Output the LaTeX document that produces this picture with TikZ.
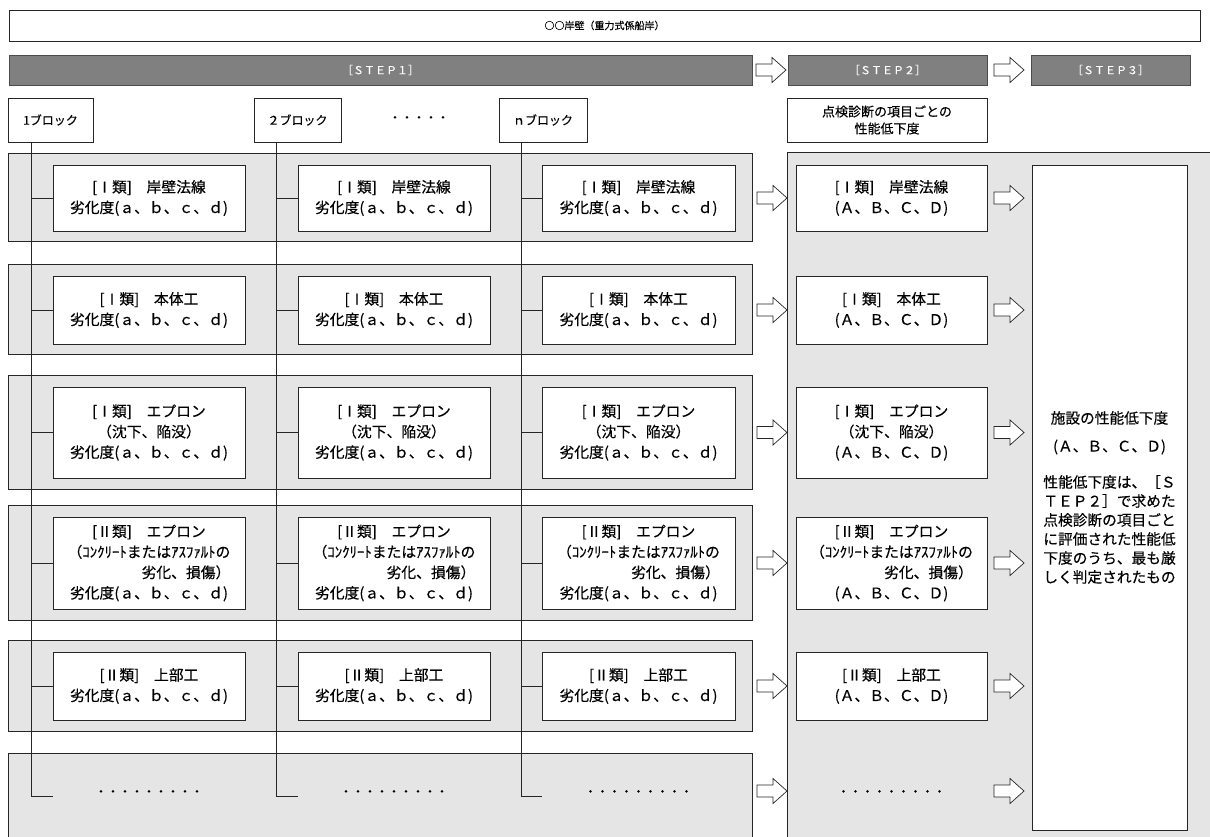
\documentclass[tikz,border=0pt]{standalone}
\usepackage{fontspec}
\setmainfont{Noto Sans CJK JP}[FakeBold=0.3]
\usetikzlibrary{calc}
\newcommand\bx[7]{\node[#6,minimum width={#4-#2},minimum height={#5-#3}] (#1) at ({(#2+#4)/2},{(#3+#5)/2}) {#7};}
\tikzset{
  frame/.style={draw=black!85,line width=0.8pt,inner sep=0pt,outer sep=0pt,align=center},
  whitebox/.style={frame,fill=white},
  graybox/.style={frame,fill=black!10},
  stepbar/.style={draw=black!70,line width=0.8pt,fill=black!50,text=white,inner sep=0pt,outer sep=0pt,font=\fontsize{11}{13}\selectfont},
  rowtext/.style={font=\fontsize{14.8}{20.5}\selectfont},
  smalltext/.style={font=\fontsize{12}{17}\selectfont},
  link/.style={draw=black!85,line width=0.8pt},
  barrow/.pic={\draw[draw=black!85,line width=0.7pt,fill=white,line join=miter] (0,-6)--(16,-6)--(16,-12.5)--(30,0)--(16,12.5)--(16,6)--(0,6)--cycle;}
}
\begin{document}
\begin{tikzpicture}[x=1pt,y=-1pt]
\useasboundingbox (0,0) rectangle (1210,837);
\fill[white] (0,0) rectangle (1210,837);
\clip (0,0) rectangle (1210,837);

% title
\bx{title}{9}{10}{1200}{41}{whitebox,font=\fontsize{10}{12}\selectfont}{○○岸壁（重力式係船岸）}

% step bars
\bx{st1}{9}{55}{752}{85}{stepbar}{［ＳＴＥＰ１］}
\bx{st2}{788}{55}{987}{85}{stepbar}{［ＳＴＥＰ２］}
\bx{st3}{1031}{55}{1190}{85}{stepbar}{［ＳＴＥＰ３］}
\pic at (756,70) {barrow};
\pic at (994,70) {barrow};

% block headers
\bx{b1}{8}{98}{93}{142}{whitebox,smalltext}{1ブロック}
\bx{b2}{254}{98}{341}{142}{whitebox,smalltext}{２ブロック}
\bx{b3}{499}{98}{587}{142}{whitebox,smalltext}{ｎブロック}
\node[smalltext,inner sep=0pt] (bdots) at (419,119) {・・・・・};
\bx{h2}{787}{98}{987}{142}{whitebox,font=\fontsize{13}{17}\selectfont}{点検診断の項目ごとの\\性能低下度}

% gray row bands
\bx{g1}{8}{153}{752}{241}{graybox}{}
\bx{g2}{8}{264}{752}{354}{graybox}{}
\bx{g3}{8}{375}{752}{489}{graybox}{}
\bx{g4}{8}{505}{752}{620}{graybox}{}
\bx{g5}{8}{640}{752}{731}{graybox}{}
\bx{g6}{8}{753}{752}{860}{graybox}{}
\bx{p2}{787}{152}{1215}{860}{graybox}{}

% block lines
\coordinate (L1) at (31,796);
\coordinate (L2) at (276,796);
\coordinate (L3) at (521,796);
\coordinate (E1) at (53,796);
\coordinate (E2) at (298,796);
\coordinate (E3) at (542,796);
\draw[link] (b1.south -| L1) -- (L1) -- (E1);
\draw[link] (b2.south -| L2) -- (L2) -- (E2);
\draw[link] (b3.south -| L3) -- (L3) -- (E3);

% step 1 boxes
\foreach \c/\xa/\xb in {1/53/245,2/298/490,3/542/735}{
  \bx{i\c1}{\xa}{165}{\xb}{231}{whitebox,rowtext}{[Ⅰ類]　岸壁法線\\劣化度(ａ、ｂ、ｃ、ｄ)}
  \bx{i\c2}{\xa}{276}{\xb}{344}{whitebox,rowtext}{[Ⅰ類]　本体工\\劣化度(ａ、ｂ、ｃ、ｄ)}
  \bx{i\c3}{\xa}{387}{\xb}{478}{whitebox,rowtext}{[Ⅰ類]　エプロン\\（沈下、陥没）\\劣化度(ａ、ｂ、ｃ、ｄ)}
  \bx{i\c4}{\xa}{517}{\xb}{609}{whitebox,rowtext}{[Ⅱ類]　エプロン\\（ｺﾝｸﾘｰﾄまたはｱｽﾌｧﾙﾄの\\　　　　　劣化、損傷）\\劣化度(ａ、ｂ、ｃ、ｄ)}
  \bx{i\c5}{\xa}{652}{\xb}{720}{whitebox,rowtext}{[Ⅱ類]　上部工\\劣化度(ａ、ｂ、ｃ、ｄ)}
  \node[font=\fontsize{12}{14}\selectfont,inner sep=0pt] (d\c) at ({(\xa+\xb)/2},793) {・・・・・・・・・};
}
\foreach \c/\L in {1/L1,2/L2,3/L3}{
  \foreach \r in {1,...,5}{
    \draw[link] (i\c\r.west -| \L) -- (i\c\r.west);
  }
}

% step 2 boxes
\bx{s1}{796}{165}{987}{231}{whitebox,rowtext}{[Ⅰ類]　岸壁法線\\(Ａ、Ｂ、Ｃ、Ｄ)}
\bx{s2}{796}{276}{987}{344}{whitebox,rowtext}{[Ⅰ類]　本体工\\(Ａ、Ｂ、Ｃ、Ｄ)}
\bx{s3}{796}{387}{987}{478}{whitebox,rowtext}{[Ⅰ類]　エプロン\\（沈下、陥没）\\(Ａ、Ｂ、Ｃ、Ｄ)}
\bx{s4}{796}{517}{987}{609}{whitebox,rowtext}{[Ⅱ類]　エプロン\\（ｺﾝｸﾘｰﾄまたはｱｽﾌｧﾙﾄの\\　　　　　劣化、損傷）\\(Ａ、Ｂ、Ｃ、Ｄ)}
\bx{s5}{796}{652}{987}{720}{whitebox,rowtext}{[Ⅱ類]　上部工\\(Ａ、Ｂ、Ｃ、Ｄ)}
\node[font=\fontsize{12}{14}\selectfont,inner sep=0pt] (s6) at (891.5,793) {・・・・・・・・・};

% step 3 box
\bx{f}{1032}{165}{1187}{830}{whitebox,font=\fontsize{14.7}{19}\selectfont}{施設の性能低下度\\[9pt](Ａ、Ｂ、Ｃ、Ｄ)\\[17pt]性能低下度は、［Ｓ\\ＴＥＰ２］で求めた\\点検診断の項目ごと\\に評価された性能低\\下度のうち、最も厳\\しく判定されたもの}

% block arrows
\foreach \y in {198,310,432.5,563,686,791}{
  \pic at (757,\y) {barrow};
  \pic at (994,\y) {barrow};
}
\end{tikzpicture}
\end{document}
